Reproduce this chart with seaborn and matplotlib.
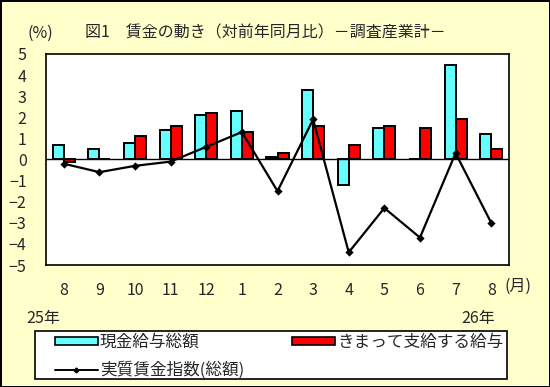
import matplotlib
matplotlib.use("Agg")
import matplotlib.pyplot as plt
import seaborn as sns
import pandas as pd
from matplotlib.patches import Patch, Rectangle
from matplotlib.lines import Line2D

months = ["8", "9", "10", "11", "12", "1", "2", "3", "4", "5", "6", "7", "8"]
keys = ["25-8", "25-9", "25-10", "25-11", "25-12", "26-1", "26-2", "26-3",
        "26-4", "26-5", "26-6", "26-7", "26-8"]
total_pay = [0.7, 0.5, 0.8, 1.4, 2.1, 2.3, 0.1, 3.3, -1.2, 1.5, 0.0, 4.5, 1.2]
regular_pay = [-0.1, 0.0, 1.1, 1.6, 2.2, 1.3, 0.3, 1.6, 0.7, 1.6, 1.5, 1.9, 0.5]
real_wage = [-0.2, -0.6, -0.3, -0.1, 0.6, 1.3, -1.5, 1.9, -4.4, -2.3, -3.7, 0.3, -3.0]
series_names = ["現金給与総額", "きまって支給する給与"]
line_name = "実質賃金指数(総額)"

sns.set_theme(style="white")
plt.rcParams['font.family'] = ['Noto Sans CJK JP', 'DejaVu Sans']
plt.rcParams['axes.unicode_minus'] = True

FS = 11.5
bg = "#FFFFCC"
fig = plt.figure(figsize=(5.5, 3.87), dpi=100, facecolor=bg,
                 edgecolor="black", linewidth=2)
ax = fig.add_axes([46/550, 1-265/387, (509-46)/550, (265-54)/387])
ax.set_facecolor("white")

df = pd.DataFrame({
    "key": keys * 2,
    "value": total_pay + regular_pay,
    "series": [series_names[0]] * len(keys) + [series_names[1]] * len(keys),
})
sns.barplot(data=df, x="key", y="value", hue="series", order=keys,
            hue_order=series_names, palette=["#66FFFF", "#FF0000"],
            width=0.62, edgecolor="black", linewidth=1.4, ax=ax,
            legend=False, errorbar=None, saturation=1)
ax.axhline(0, color="black", lw=1.0, zorder=3)
ldf = pd.DataFrame({"key": keys, "value": real_wage})
sns.pointplot(data=ldf, x="key", y="value", order=keys, color="black",
              markers="D", markersize=3, linewidth=1.6, ax=ax, zorder=5)

ax.set_ylim(-5, 5)
ax.set_xlim(-0.5, len(keys) - 0.5)
ax.set_yticks(range(-5, 6))
ax.set_yticklabels([str(v).replace("-", "−") for v in range(-5, 6)], fontsize=FS)
ax.set_xticks(range(len(keys)))
ax.set_xticklabels(months, fontsize=FS)
ax.tick_params(axis="y", length=0, pad=14)
ax.tick_params(axis="x", length=0, pad=12)
ax.set_xlabel("")
ax.set_ylabel("")
for s in ax.spines.values():
    s.set_color("black")
    s.set_linewidth(1.2)

fig.text(40/550, 1-33/387, "(%)", fontsize=FS, ha="center", va="center")
fig.text(85/550, 1-33/387, "図1　賃金の動き（対前年同月比）－調査産業計－",
         fontsize=FS, ha="left", va="center")
fig.text(518/550, 1-286/387, "(月)", fontsize=FS, ha="center", va="center")
fig.text(43/550, 1-318/387, "25年", fontsize=FS, ha="center", va="center")
fig.text(478/550, 1-318/387, "26年", fontsize=FS, ha="center", va="center")

# legend frame
fig.patches.append(Rectangle((35/550, 1-379/387), (507-35)/550, 48/387,
                             transform=fig.transFigure, facecolor="white",
                             edgecolor="black", linewidth=1.2, zorder=1))

h_cyan = Patch(facecolor="#66FFFF", edgecolor="black", linewidth=1.2, label=series_names[0])
h_line = Line2D([], [], color="black", lw=1.4, marker="D", markersize=2.5, label=line_name)
h_red = Patch(facecolor="#FF0000", edgecolor="black", linewidth=1.2, label=series_names[1])

common = dict(fontsize=12, frameon=False, handlelength=2.55, handleheight=0.3,
              handletextpad=0.15, borderpad=0, labelspacing=0.6, borderaxespad=0,
              loc="upper left")
leg1 = fig.legend(handles=[h_cyan, h_line], bbox_to_anchor=(55/550, 1-334/387), **common)
leg2 = fig.legend(handles=[h_red], bbox_to_anchor=(292/550, 1-334/387), **common)
leg1.set_zorder(3)
leg2.set_zorder(3)

fig.savefig("out.png", dpi=100, facecolor=bg, edgecolor="black")
